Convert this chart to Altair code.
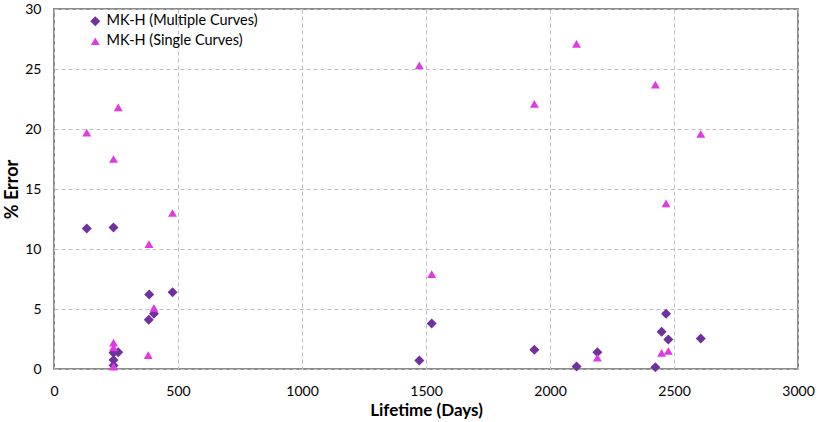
import altair as alt
import pandas as pd

multi_x = [132, 240, 240, 240, 240, 259, 382, 384, 403, 478,
           1473, 1523, 1937, 2107, 2191, 2425, 2450, 2468, 2477, 2608]
multi_y = [11.7, 11.8, 1.35, 0.75, 0.3, 1.4, 4.1, 6.2, 4.6, 6.4,
           0.7, 3.8, 1.6, 0.2, 1.4, 0.14, 3.1, 4.6, 2.45, 2.55]

single_x = [132, 240, 240, 240, 240, 259, 383, 380, 403, 478,
            1473, 1523, 1937, 2107, 2191, 2425, 2450, 2468, 2477, 2608]
single_y = [19.7, 17.5, 2.2, 1.8, 0.2, 21.8, 10.4, 1.15, 5.1, 13.0,
            25.3, 7.9, 22.1, 27.1, 0.95, 23.7, 1.35, 13.8, 1.5, 19.6]

series = ["MK-H (Multiple Curves)", "MK-H (Single Curves)"]
x_ticks = [0, 500, 1000, 1500, 2000, 2500, 3000]
y_ticks = [0, 5, 10, 15, 20, 25, 30]

df = pd.concat([
    pd.DataFrame({"x": multi_x, "y": multi_y, "s": series[0]}),
    pd.DataFrame({"x": single_x, "y": single_y, "s": series[1]}),
])

FONT = "Lato"

chart = alt.Chart(df).mark_point(filled=True, opacity=1).encode(
    x=alt.X("x:Q", scale=alt.Scale(domain=[0, 3000], nice=False),
            axis=alt.Axis(values=x_ticks, title="Lifetime (Days)", format="d")),
    y=alt.Y("y:Q", scale=alt.Scale(domain=[0, 30], nice=False),
            axis=alt.Axis(values=y_ticks, title="% Error", format="d")),
    color=alt.Color("s:N", scale=alt.Scale(domain=series, range=["#7030A0", "#E03BE3"]),
                    legend=alt.Legend(title=None, orient="none", legendX=34, legendY=5,
                                      symbolSize=50, labelFontSize=14.5, labelFont=FONT,
                                      labelColor="#000000", rowPadding=5, labelOffset=4,
                                      symbolStrokeWidth=0)),
    shape=alt.Shape("s:N", scale=alt.Scale(domain=series, range=["diamond", "triangle-up"]),
                    legend=None),
    size=alt.Size("s:N", scale=alt.Scale(domain=series, range=[100, 80]), legend=None),
).properties(
    width=744, height=360,
    autosize=alt.AutoSizeParams(type="none"),
    padding={"left": 54, "top": 9, "right": 40, "bottom": 53},
).configure_view(
    stroke="#8C8C8C", strokeWidth=2
).configure_axis(
    domain=False, ticks=False, labelFlush=False,
    grid=True, gridColor="#BFBFBF", gridDash=[4, 3], gridWidth=1,
    labelFont=FONT, labelFontSize=14, labelColor="#000000",
    titleFont=FONT, titleFontSize=18, titleFontWeight="bold", titleColor="#000000",
).configure_axisX(
    labelPadding=15, titlePadding=4, titleFontSize=17
).configure_axisY(
    labelPadding=13, titlePadding=3
)

chart.save("out.html", embed_options={"renderer": "svg", "actions": False})
